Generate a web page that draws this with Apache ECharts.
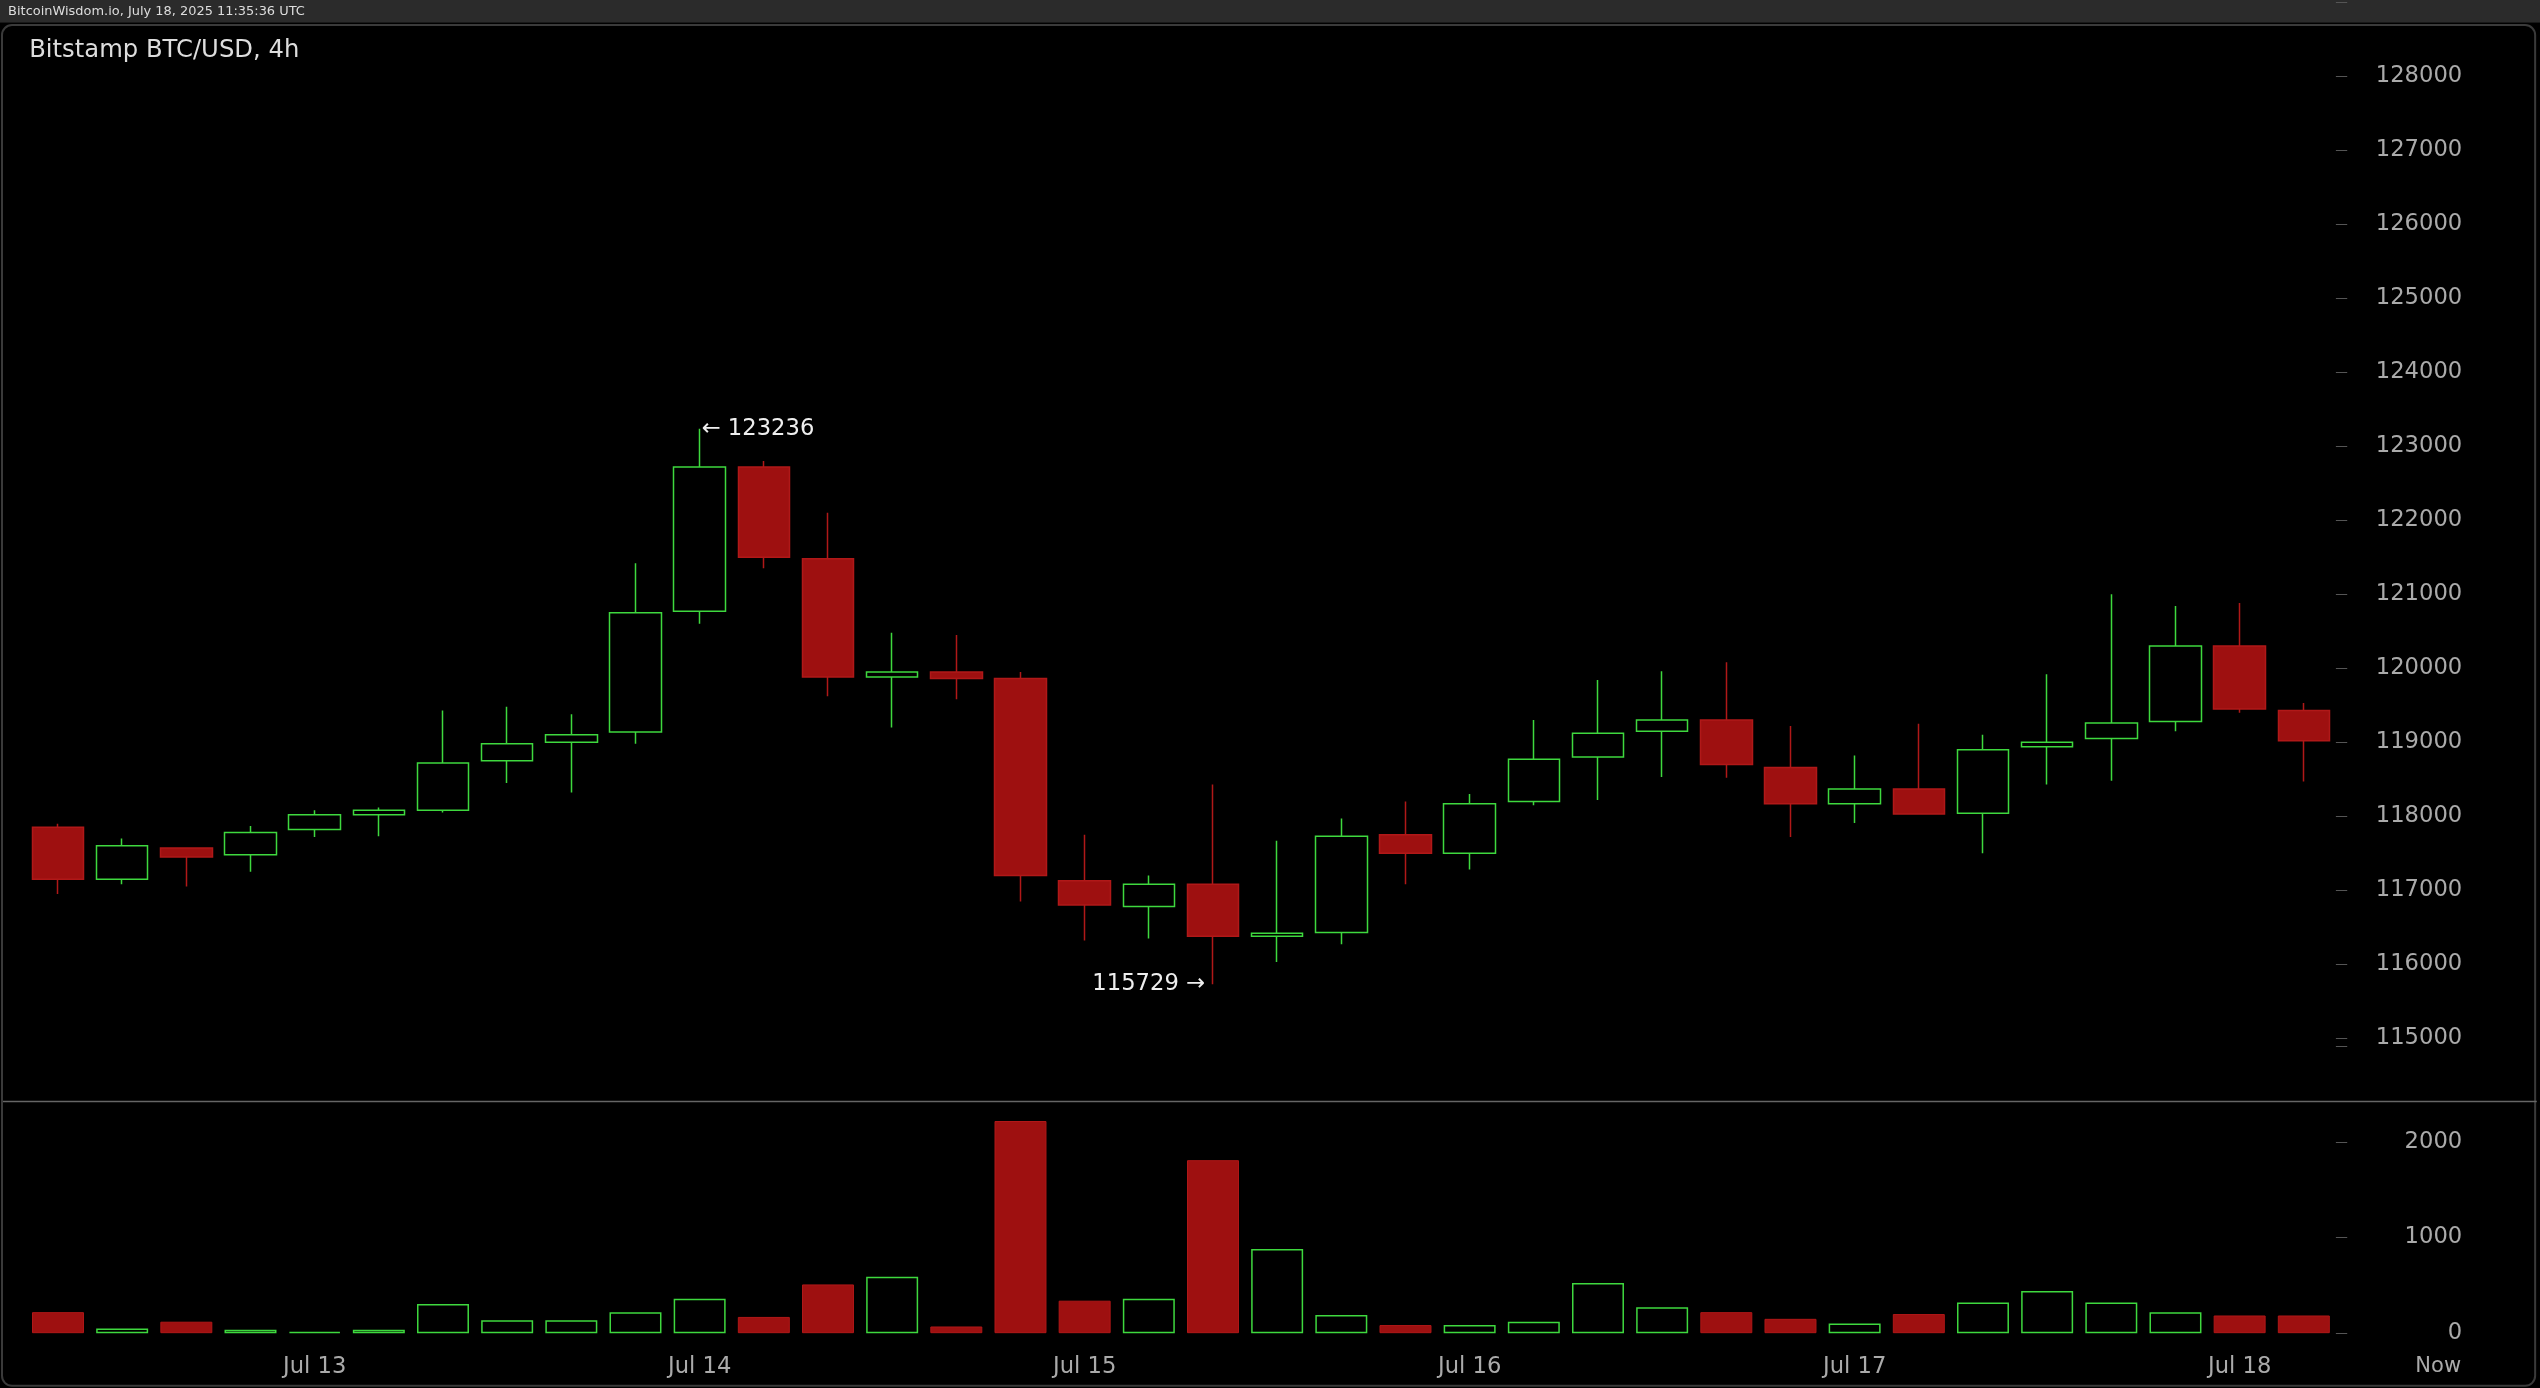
<!DOCTYPE html>
<html><head><meta charset="utf-8">
<script src="https://cdn.jsdelivr.net/npm/echarts@6/dist/echarts.min.js"></script>
<style>html,body{margin:0;padding:0;background:#000;overflow:hidden;}#c{width:2540px;height:1388px;}</style>
</head><body><div id="c"></div>
<script>
const categories=["Jul 12 08","Jul 12 12","Jul 12 16","Jul 12 20","Jul 13","Jul 13 04","Jul 13 08","Jul 13 12","Jul 13 16","Jul 13 20","Jul 14","Jul 14 04","Jul 14 08","Jul 14 12","Jul 14 16","Jul 14 20","Jul 15","Jul 15 04","Jul 15 08","Jul 15 12","Jul 15 16","Jul 15 20","Jul 16","Jul 16 04","Jul 16 08","Jul 16 12","Jul 16 16","Jul 16 20","Jul 17","Jul 17 04","Jul 17 08","Jul 17 12","Jul 17 16","Jul 17 20","Jul 18","Jul 18 04"];
const tickLabels={4:"Jul 13",10:"Jul 14",16:"Jul 15",22:"Jul 16",28:"Jul 17",34:"Jul 18"};
// [open, close, low, high]
const ohlc=[[117850,117150,116950,117900],[117150,117600,117080,117700],[117570,117450,117050,117580],[117480,117780,117250,117870],[117820,118020,117720,118080],[118020,118080,117730,118120],[118080,118720,118050,119430],[118750,118980,118450,119480],[119000,119100,118320,119380],[119140,120750,118980,121420],[120770,122720,120600,123236],[122720,121500,121350,122800],[121480,119880,119620,122100],[119880,119950,119200,120480],[119950,119860,119580,120450],[119860,117200,116850,119950],[117130,116800,116320,117750],[116780,117080,116350,117200],[117080,116380,115729,118430],[116380,116420,116030,117670],[116430,117730,116270,117970],[117750,117500,117080,118200],[117500,118170,117280,118300],[118200,118770,118150,119300],[118800,119120,118220,119840],[119150,119300,118530,119960],[119300,118700,118520,120080],[118660,118170,117720,119220],[118170,118370,117910,118820],[118370,118030,118030,119250],[118040,118900,117500,119100],[118940,119000,118430,119920],[119050,119260,118480,121000],[119280,120300,119150,120840],[120300,119450,119400,120880],[119430,119020,118470,119530]];
const volumes=[220,50,120,35,15,35,305,135,135,220,360,170,510,590,70,2220,340,360,1810,880,190,85,85,120,525,270,220,150,100,200,320,440,320,220,185,185];
const RED='#9e1010',REDB='#b01818',GREEN='#3ed83e';
const S=2540/1568;
const W=(1442-16)*S;
const PX=45.69; // px per 1000 in reference scale
const chart=echarts.init(document.getElementById('c'));
const volData=volumes.map((v,i)=>{const up=ohlc[i][1]>=ohlc[i][0];return {value:v,itemStyle:up?{color:'#000',borderColor:GREEN,borderWidth:1.5}:{color:RED,borderColor:REDB,borderWidth:1}};});
const lab={color:'#aaa',fontSize:14*S,fontFamily:'DejaVu Sans'};
const pTop=47-PX, pBot=47+13*PX;
chart.setOption({
 backgroundColor:'#000',animation:false,
 grid:[{left:16*S,top:pTop*S,width:W,height:(pBot-pTop)*S},{left:16*S,top:646*S,width:W,height:177*S}],
 xAxis:[{type:'category',data:categories,gridIndex:0,axisLine:{show:false},axisTick:{show:false},axisLabel:{show:false},splitLine:{show:false}},
  {type:'category',data:categories,gridIndex:1,axisLine:{show:false},axisTick:{show:false},axisLabel:{show:true,interval:0,margin:14*S,formatter:(v,i)=>tickLabels[i]||'',...lab},splitLine:{show:false}}],
 yAxis:[{type:'value',gridIndex:0,position:'right',min:115000,max:129000,interval:1000,axisLine:{show:false},axisTick:{show:true,length:7*S,lineStyle:{color:'#555'}},splitLine:{show:false},showMaxLabel:false,axisLabel:{align:'right',margin:78*S,...lab,formatter:v=>v<=128000?String(v):''}},
  {type:'value',gridIndex:1,position:'right',min:0,max:3000,interval:1000,axisLine:{show:false},axisTick:{show:true,length:7*S,lineStyle:{color:'#555'}},splitLine:{show:false},axisLabel:{align:'right',margin:78*S,...lab,formatter:v=>v<=2000?String(v):''}}],
 series:[{type:'candlestick',xAxisIndex:0,yAxisIndex:0,data:ohlc,barWidth:'81%',
   itemStyle:{color:'#000',color0:RED,borderColor:GREEN,borderColor0:REDB,borderWidth:1.5},
   markPoint:{symbol:'circle',symbolSize:0,data:[
    {coord:[10,123236],label:{show:true,formatter:'← 123236',color:'#eee',fontSize:14*S,fontFamily:'DejaVu Sans',position:'right',offset:[-3,0]}},
    {coord:[18,115729],label:{show:true,formatter:'115729 →',color:'#eee',fontSize:14*S,fontFamily:'DejaVu Sans',position:'left',offset:[-3,0]}}]}},
  {type:'bar',xAxisIndex:1,yAxisIndex:1,data:volData,barWidth:'81%'}],
 graphic:[
  {type:'rect',shape:{x:0,y:0,width:2540,height:14*S},style:{fill:'#2b2b2b'}},
  {type:'rect',shape:{x:0,y:14*S,width:2540,height:10*S},style:{fill:'#000'}},
  {type:'text',left:5*S,top:3*S,style:{text:'BitcoinWisdom.io, July 18, 2025 11:35:36 UTC',fill:'#ddd',fontSize:8*S,fontFamily:'DejaVu Sans'}},
  {type:'rect',shape:{x:2,y:15.5*S,width:1565*S-2,height:840*S,r:10},style:{fill:'none',stroke:'#3a3a3a',lineWidth:2}},
  {type:'rect',shape:{x:1445*S,y:650*S,width:10*S,height:33*S},style:{fill:'#000'}},
  {type:'line',shape:{x1:3,y1:680*S,x2:1566*S,y2:680*S},style:{stroke:'#666',lineWidth:1.5}},
  {type:'text',left:18*S,top:24*S,style:{text:'Bitstamp BTC/USD, 4h',fill:'#ddd',fontSize:15*S,fontFamily:'DejaVu Sans'}},
  {type:'text',left:1491*S,top:837*S,style:{text:'Now',fill:'#aaa',fontSize:13*S,fontFamily:'DejaVu Sans'}}
 ]
});
</script></body></html>
